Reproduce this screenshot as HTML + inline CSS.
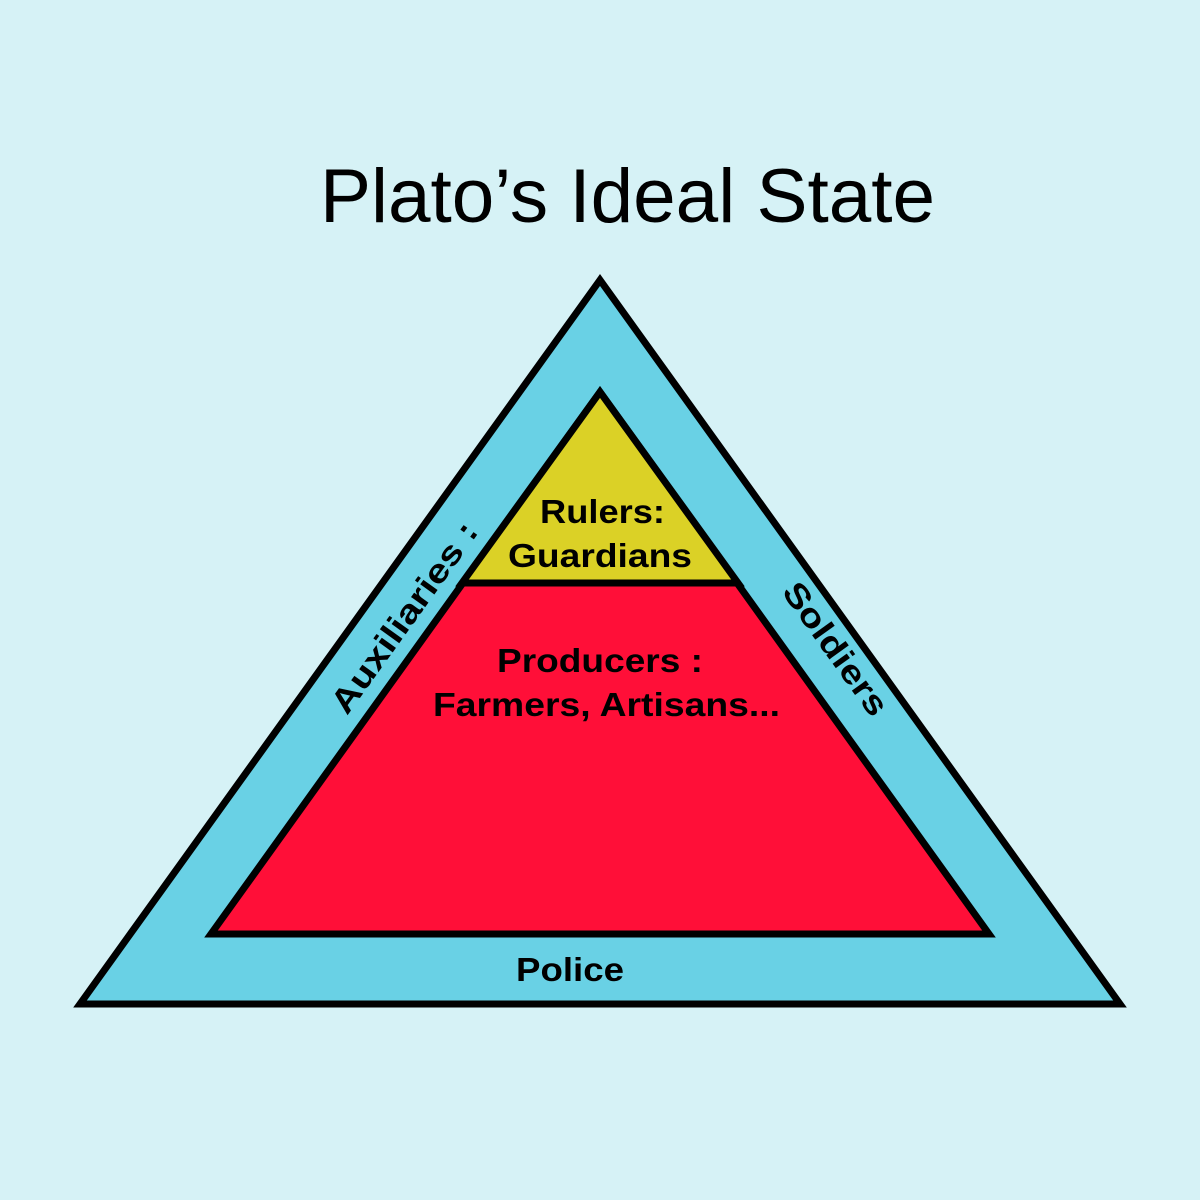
<!DOCTYPE html>
<html><head><meta charset="utf-8"><style>html,body{margin:0;padding:0;background:#d6f2f6;}svg{display:block}</style></head>
<body>
<svg width="1200" height="1200" viewBox="0 0 1200 1200" xmlns="http://www.w3.org/2000/svg">
<rect width="1200" height="1200" fill="#d6f2f6"/>
<text x="320" y="222" font-family="Liberation Sans, sans-serif" font-size="76" textLength="615" lengthAdjust="spacingAndGlyphs" fill="#000">Plato’s Ideal State</text>
<polygon points="600,280 80,1004 1120,1004" fill="#69d1e5" stroke="#000" stroke-width="7" stroke-linejoin="miter"/>
<polygon points="600,392 211,934 989,934" fill="#ff0f38" stroke="#000" stroke-width="7"/>
<polygon points="600,392 462,583 738,583" fill="#dbd126" stroke="#000" stroke-width="7"/>
<g font-family="Liberation Sans, sans-serif" font-weight="bold" font-size="33" fill="#000">
<text x="540" y="523" textLength="125" lengthAdjust="spacingAndGlyphs">Rulers:</text>
<text x="508" y="567" textLength="184" lengthAdjust="spacingAndGlyphs">Guardians</text>
<text x="497" y="672" textLength="206" lengthAdjust="spacingAndGlyphs">Producers :</text>
<text x="433" y="716" textLength="347" lengthAdjust="spacingAndGlyphs">Farmers, Artisans...</text>
<text x="516" y="981" textLength="108" lengthAdjust="spacingAndGlyphs">Police</text>
<text transform="translate(347,716) rotate(-54.3)" x="0" y="0" textLength="227" lengthAdjust="spacingAndGlyphs">Auxiliaries :</text>
<text transform="translate(781,592) rotate(54.3)" x="0" y="0" textLength="156" lengthAdjust="spacingAndGlyphs">Soldiers</text>
</g>
</svg>
</body></html>
